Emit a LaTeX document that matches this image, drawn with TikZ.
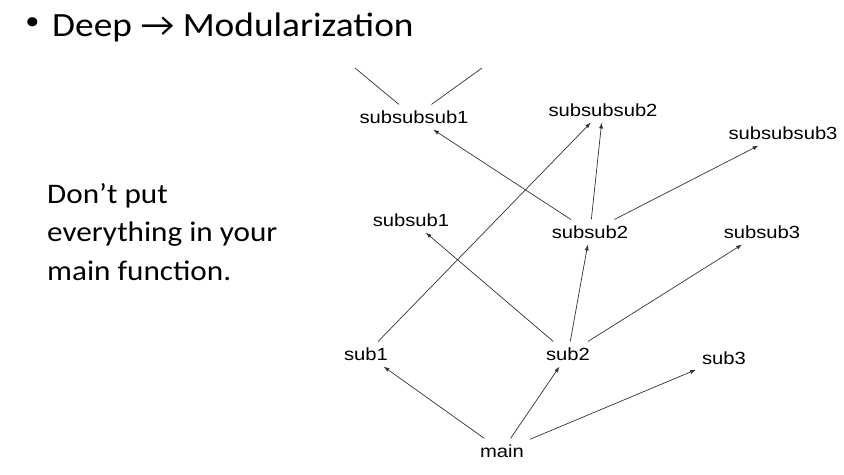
\documentclass[tikz,border=0pt]{standalone}
\usepackage{fontspec}
\setmainfont{Carlito}
\newfontfamily\fnfont[FakeStretch=1.15]{Liberation Sans}
\newfontfamily\slidefont[FakeStretch=1.1]{Carlito}
\usetikzlibrary{arrows.meta}
\tikzset{>={Latex[width=3.5pt,length=5pt]}}
\definecolor{edgegray}{HTML}{333333}

\begin{document}
\begin{tikzpicture}[x=0.03cm, y=-0.03cm,
  fn/.style={font=\fnfont\fontsize{15}{18}\selectfont, inner sep=5pt},
  call/.style={->, color=edgegray, line width=0.6pt}]

  \useasboundingbox (0,0) rectangle (844,474);

  % slide text
  \node[inner sep=0pt, font=\slidefont\fontsize{22}{26}\selectfont] (bullet) at (32.5,24) {•};
  \node[anchor=base west, inner sep=0pt, font=\slidefont\fontsize{29}{34}\selectfont] (title) at (52,36) {Deep → Modularization};
  \node[anchor=base west, inner sep=0pt, align=left, font=\slidefont\fontsize{24.2}{32.7}\selectfont] (note) at (47,280)
    {Don’t put\\everything in your\\main function.};

  % call tree
  \node[fn] (sss1) at (414,117) {subsubsub1};
  \node[fn] (sss2) at (603,110) {subsubsub2};
  \node[fn] (sss3) at (783,133) {subsubsub3};

  \node[fn] (ss1) at (411,220) {subsub1};
  \node[fn] (ss2) at (590,232) {subsub2};
  \node[fn] (ss3) at (762,232) {subsub3};

  \node[fn] (s1) at (366,354) {sub1};
  \node[fn] (s2) at (568,354) {sub2};
  \node[fn] (s3) at (724,358) {sub3};

  \node[fn] (main) at (502,451) {main};

  \coordinate (upL) at (355,68);
  \coordinate (upR) at (482,68);

  \draw[call] (main) -- (s1);
  \draw[call] (main) -- (s2);
  \draw[call] (main) -- (s3);

  \draw[call] (s1) -- (sss2);
  \draw[call] (s2) -- (ss1);
  \draw[call] (s2) -- (ss2);
  \draw[call] (s2) -- (ss3);

  \draw[call] (ss2) -- (sss1);
  \draw[call] (ss2) -- (sss2);
  \draw[call] (ss2) -- (sss3);

  \draw[call, -] (sss1) -- (upL);
  \draw[call, -] (sss1) -- (upR);

\end{tikzpicture}
\end{document}
